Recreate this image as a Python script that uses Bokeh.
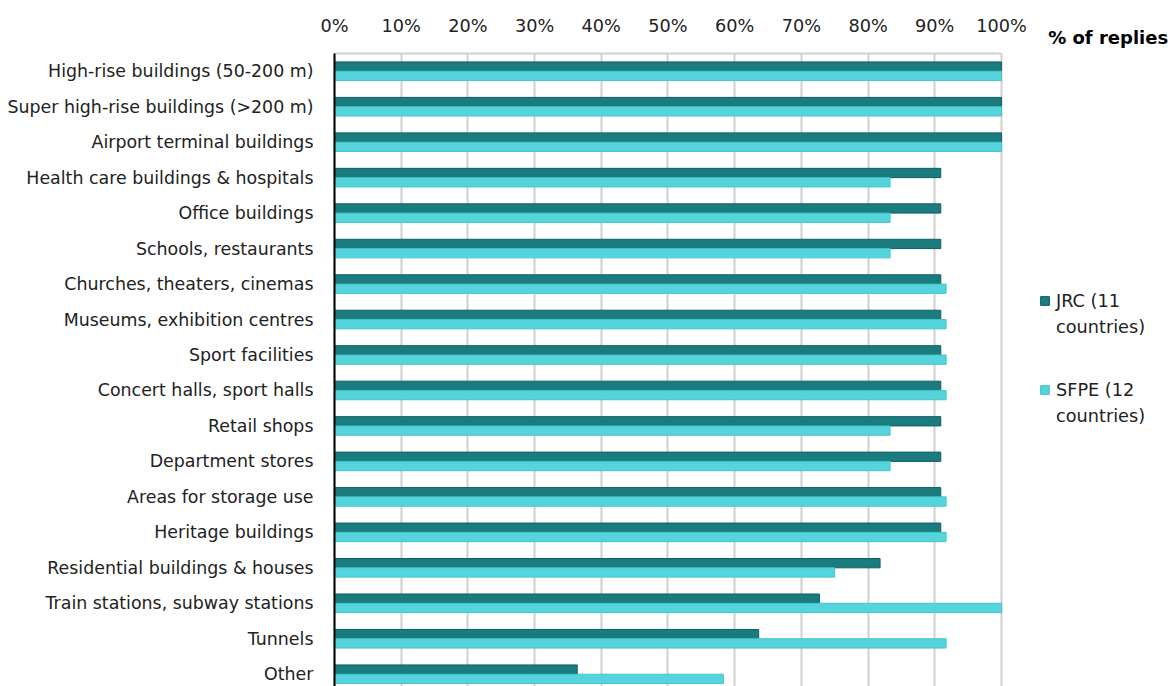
from bokeh.plotting import figure
from bokeh.models import ColumnDataSource, Range1d, FixedTicker, Legend, LegendItem, Label
from bokeh.transform import dodge
from bokeh.embed import file_html
from bokeh.resources import INLINE

categories = [
    "High-rise buildings (50-200 m)",
    "Super high-rise buildings (>200 m)",
    "Airport terminal buildings",
    "Health care buildings & hospitals",
    "Office buildings",
    "Schools, restaurants",
    "Churches, theaters, cinemas",
    "Museums, exhibition centres",
    "Sport facilities",
    "Concert halls, sport halls",
    "Retail shops",
    "Department stores",
    "Areas for storage use",
    "Heritage buildings",
    "Residential buildings & houses",
    "Train stations, subway stations",
    "Tunnels",
    "Other",
]
jrc = [100, 100, 100, 90.9, 90.9, 90.9, 90.9, 90.9, 90.9, 90.9, 90.9, 90.9, 90.9, 90.9, 81.8, 72.7, 63.6, 36.4]
sfpe = [100, 100, 100, 83.3, 83.3, 83.3, 91.7, 91.7, 91.7, 91.7, 83.3, 83.3, 91.7, 91.7, 75.0, 100, 91.7, 58.3]
x_ticks = [0, 10, 20, 30, 40, 50, 60, 70, 80, 90, 100]
series_names = ["JRC (11", "SFPE (12"]
series_second_line = ["countries)", "countries)"]
unit_label = "% of replies"

pos = list(range(len(categories)))
src = ColumnDataSource(dict(y=pos, jrc=jrc, sfpe=sfpe))

FONT = "DejaVu Sans"
FS = "17.7px"
FS_Y = "17.4px"
TXT = "#222222"
JRC_COL = "#1b7c80"
SFPE_COL = "#55d4dc"
GRID = "#d0d0d0"

y_top_edge = -0.5
p = figure(width=1171, height=686, output_backend="svg", toolbar_location=None,
           x_range=Range1d(-50.07, 125.49), y_range=Range1d(17.346, -1.994),
           x_axis_location="above", min_border_left=0, min_border_right=0,
           min_border_top=0, min_border_bottom=0)
p.outline_line_color = None

r1 = p.hbar(y=dodge("y", -0.131, range=p.y_range), right="jrc", left=0, height=0.262, source=src,
            fill_color=JRC_COL, line_color="#0f5f63", line_width=1)
r2 = p.hbar(y=dodge("y", 0.131, range=p.y_range), right="sfpe", left=0, height=0.262, source=src,
            fill_color=SFPE_COL, line_color="#44c4cc", line_width=1)
# invisible renderer used only for the second line of each legend entry
blank = p.hbar(y=[], right=[], height=0.1, fill_alpha=0, line_alpha=0)

xa = p.xaxis[0]
xa.fixed_location = y_top_edge
xa.bounds = (x_ticks[0], x_ticks[-1])
xa.ticker = FixedTicker(ticks=x_ticks)
xa.major_label_overrides = {t: f"{t}%" for t in x_ticks}
xa.axis_line_color = GRID
xa.axis_line_width = 2
xa.major_tick_line_color = None
xa.minor_tick_line_color = None
xa.major_label_standoff = 11
xa.major_label_text_font = FONT
xa.major_label_text_font_size = FS
xa.major_label_text_color = TXT

ya = p.yaxis[0]
ya.fixed_location = 0
ya.bounds = (y_top_edge, 20)
ya.ticker = FixedTicker(ticks=pos)
ya.major_label_overrides = {i: c for i, c in enumerate(categories)}
ya.axis_line_color = "black"
ya.axis_line_width = 2
ya.major_tick_line_color = None
ya.minor_tick_line_color = None
ya.major_label_standoff = 15
ya.major_label_text_font = FONT
ya.major_label_text_font_size = FS_Y
ya.major_label_text_color = TXT

p.xgrid.ticker = FixedTicker(ticks=x_ticks)
p.xgrid.cross_bounds = (y_top_edge, 20)
p.xgrid.grid_line_color = GRID
p.xgrid.grid_line_width = 2
p.ygrid.grid_line_color = None


def make_legend(name, second, renderer, loc):
    return Legend(items=[LegendItem(label=name, renderers=[renderer]),
                         LegendItem(label=second, renderers=[blank])],
                  location=loc, orientation="vertical", border_line_color=None,
                  background_fill_alpha=0, label_text_font=FONT, label_text_font_size=FS,
                  label_text_color=TXT, glyph_width=11, glyph_height=11,
                  spacing=5, label_standoff=6, padding=0, margin=0,
                  label_height=21)


p.add_layout(make_legend(series_names[0], series_second_line[0], r1, (1039, 349)), "center")
p.add_layout(make_legend(series_names[1], series_second_line[1], r2, (1039, 260)), "center")

p.add_layout(Label(x=107.0, y=-0.951, text=unit_label, text_font=FONT, text_font_size="18px",
                   text_font_style="bold", text_color="black", text_baseline="middle"))

open("out.html", "w").write(file_html(p, INLINE))
